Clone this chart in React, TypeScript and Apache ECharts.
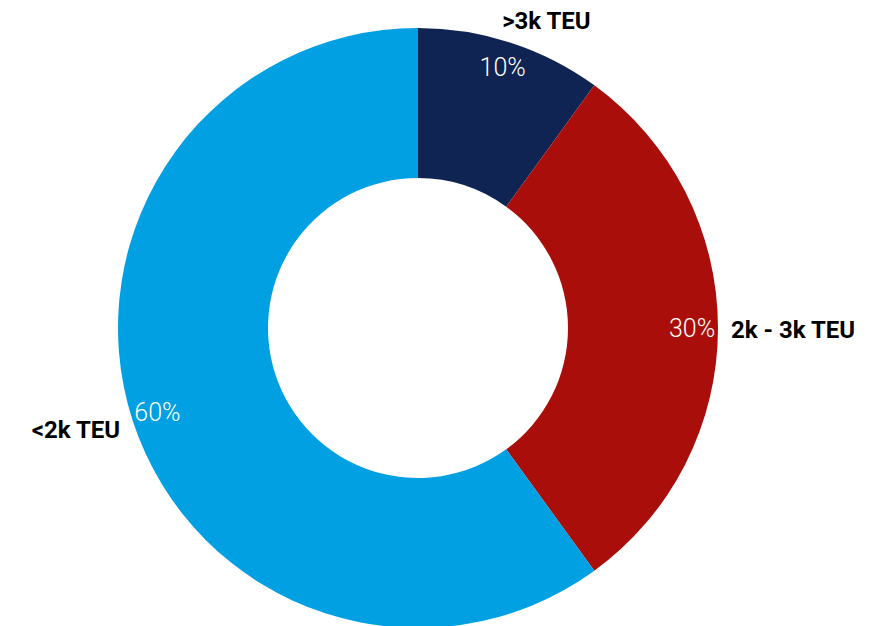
import React, { useEffect, useRef } from "react";
import * as echarts from "echarts";

const categories = [">3k TEU", "2k - 3k TEU", "<2k TEU"];
const values = [10, 30, 60];
const colors = ["#0F2452", "#AA0E0A", "#00A0E2"];

export default function App() {
  const ref = useRef<HTMLDivElement>(null);
  useEffect(() => {
    document.body.style.margin = "0";
    const chart = echarts.init(ref.current!, null, { renderer: "svg" });
    const data = categories.map((name, i) => ({
      name,
      value: values[i],
      itemStyle: { color: colors[i] },
    }));
    const center = [418, 328];
    chart.setOption({
      animation: false,
      series: [
        {
          type: "pie",
          center,
          radius: [150, 300],
          startAngle: 90,
          clockwise: true,
          silent: true,
          data,
          label: {
            show: true,
            position: "outside",
            formatter: "{b}",
            color: "#000",
            fontFamily: "Roboto",
            fontWeight: "bold",
            fontSize: 24,
            distanceToLabelLine: 5,
          },
          labelLine: { show: false, length: 8, length2: 0 },
          labelLayout: (params: any) =>
            params.dataIndex === 0
              ? { dx: -16, dy: -14 }
              : params.dataIndex === 2
              ? { dx: 0, dy: 7 }
              : { dy: 2 },
        },
        {
          type: "pie",
          center,
          radius: [242, 300],
          startAngle: 90,
          clockwise: true,
          silent: true,
          data: categories.map((name, i) => ({
            name,
            value: values[i],
            itemStyle: { color: "transparent" },
          })),
          label: {
            show: true,
            position: "inside",
            formatter: "{c}%",
            color: "#fff",
            fontFamily: "Roboto",
            fontWeight: 300,
            fontSize: 25,
          },
          labelLine: { show: false },
        },
      ],
    });
    return () => chart.dispose();
  }, []);
  return <div ref={ref} style={{ width: 893, height: 626 }} />;
}
